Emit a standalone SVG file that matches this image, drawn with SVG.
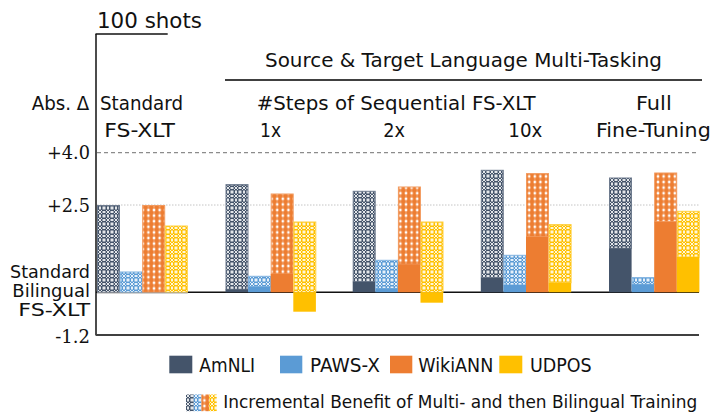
<svg xmlns="http://www.w3.org/2000/svg" width="714" height="415" viewBox="0 0 714 415">
  <defs>
    <!-- dotted lattice used for the incremental parts of the bars -->
    <pattern id="hA" width="8" height="8" patternUnits="userSpaceOnUse">
      <rect width="8" height="8" fill="#44546A"/>
      <path d="M0,0h1.5v1.5h-1.5z M6.5,0h1.5v1.5h-1.5z M0,6.5h1.5v1.5h-1.5z M6.5,6.5h1.5v1.5h-1.5z M3,0h2v1.5h-2z M3,6.5h2v1.5h-2z M0,3h1.5v2h-1.5z M6.5,3h1.5v2h-1.5z M3,3h2v2h-2z M2,2h1v1h-1z M5,2h1v1h-1z M2,5h1v1h-1z M5,5h1v1h-1z" fill="#fff" opacity="0.85"/>
    </pattern>
    <pattern id="hP" width="8" height="8" patternUnits="userSpaceOnUse">
      <rect width="8" height="8" fill="#5B9BD5"/>
      <path d="M0,0h1.5v1.5h-1.5z M6.5,0h1.5v1.5h-1.5z M0,6.5h1.5v1.5h-1.5z M6.5,6.5h1.5v1.5h-1.5z M3,0h2v1.5h-2z M3,6.5h2v1.5h-2z M0,3h1.5v2h-1.5z M6.5,3h1.5v2h-1.5z M3,3h2v2h-2z M2,2h1v1h-1z M5,2h1v1h-1z M2,5h1v1h-1z M5,5h1v1h-1z" fill="#fff" opacity="0.85"/>
    </pattern>
    <pattern id="hU" width="8" height="8" patternUnits="userSpaceOnUse">
      <rect width="8" height="8" fill="#FFC000"/>
      <path d="M0,0h1.5v1.5h-1.5z M6.5,0h1.5v1.5h-1.5z M0,6.5h1.5v1.5h-1.5z M6.5,6.5h1.5v1.5h-1.5z M3,0h2v1.5h-2z M3,6.5h2v1.5h-2z M0,3h1.5v2h-1.5z M6.5,3h1.5v2h-1.5z M3,3h2v2h-2z M2,2h1v1h-1z M5,2h1v1h-1z M2,5h1v1h-1z M5,5h1v1h-1z" fill="#fff" opacity="0.85"/>
    </pattern>
    <!-- small square grid for the WikiANN bars -->
    <pattern id="hW" width="5.6" height="5.6" patternUnits="userSpaceOnUse">
      <rect width="5.6" height="5.6" fill="#ED7D31"/>
      <rect x="1.6" y="1.6" width="2.4" height="2.4" fill="#fff"/>
      <rect x="2.3" y="0" width="1" height="5.6" fill="#fff" opacity="0.35"/>
    </pattern>
  </defs>
  <style>
    .sans { font-family: "DejaVu Sans", "Liberation Sans", sans-serif; font-size: 19.5px; fill: #111; }
    .ylab { font-family: "DejaVu Sans", "Liberation Sans", sans-serif; font-size: 18px; fill: #111; }
    .serif { font-family: "DejaVu Serif", "Liberation Serif", serif; font-size: 18px; fill: #111; }
    .a { fill: #44546A; }
    .p { fill: #5B9BD5; }
    .w { fill: #ED7D31; }
    .u { fill: #FFC000; }
    .ha { fill: url(#hA); stroke: #6E7B8E; stroke-width: 1; }
    .hp { fill: url(#hP); stroke: #7FB2E0; stroke-width: 1; }
    .hw { fill: url(#hW); stroke: #F29A5E; stroke-width: 1; }
    .hu { fill: url(#hU); stroke: #FFD040; stroke-width: 1; }
  </style>

  <rect width="714" height="415" fill="#fff"/>

  <!-- frame, reference lines and baseline -->
  <g id="axes">
    <line x1="95.5" y1="34" x2="167.7" y2="34" stroke="#111" stroke-width="1.3"/>
    <line x1="96" y1="34" x2="96" y2="335.5" stroke="#111" stroke-width="1.5"/>
    <line x1="225" y1="80" x2="702" y2="80" stroke="#404040" stroke-width="2"/>
    <line x1="97" y1="152.7" x2="699" y2="152.7" stroke="#8c8c8c" stroke-width="1.2" stroke-dasharray="4,3"/>
    <line x1="97" y1="205" x2="699" y2="205" stroke="#c4c4c4" stroke-width="1" stroke-dasharray="1.5,1.5"/>
    <line x1="96" y1="292.3" x2="699" y2="292.3" stroke="#111" stroke-width="1.6"/>
    <line x1="96" y1="335" x2="699" y2="335" stroke="#404040" stroke-width="2"/>
  </g>

  <!-- headings -->
  <g id="headings" class="sans">
    <text x="97" y="27.5" textLength="105" lengthAdjust="spacingAndGlyphs" font-size="21">100 shots</text>
    <text x="265" y="66.5" textLength="397" lengthAdjust="spacingAndGlyphs">Source &amp; Target Language Multi-Tasking</text>
    <text x="31.7" y="110" textLength="57.6" lengthAdjust="spacingAndGlyphs">Abs. Δ</text>
    <text x="100" y="110" textLength="83" lengthAdjust="spacingAndGlyphs">Standard</text>
    <text x="104.3" y="136.7" textLength="70.7" lengthAdjust="spacingAndGlyphs">FS-XLT</text>
    <text x="256.7" y="110" textLength="279" lengthAdjust="spacingAndGlyphs">#Steps of Sequential FS-XLT</text>
    <text x="260" y="136.7" textLength="21" lengthAdjust="spacingAndGlyphs">1x</text>
    <text x="383.3" y="136.7" textLength="21.7" lengthAdjust="spacingAndGlyphs">2x</text>
    <text x="508.3" y="136.7" textLength="34" lengthAdjust="spacingAndGlyphs">10x</text>
    <text x="636" y="110" textLength="35.7" lengthAdjust="spacingAndGlyphs">Full</text>
    <text x="596" y="136.7" textLength="114.7" lengthAdjust="spacingAndGlyphs">Fine-Tuning</text>
  </g>

  <!-- y-axis labels -->
  <g id="y-labels">
    <text class="serif" x="90" y="159.3" text-anchor="end" textLength="43" lengthAdjust="spacingAndGlyphs">+4.0</text>
    <text class="serif" x="90" y="211.7" text-anchor="end" textLength="43" lengthAdjust="spacingAndGlyphs">+2.5</text>
    <text class="ylab" x="90" y="277.5" text-anchor="end" textLength="80" lengthAdjust="spacingAndGlyphs">Standard</text>
    <text class="ylab" x="90" y="296.5" text-anchor="end" textLength="77.7" lengthAdjust="spacingAndGlyphs">Bilingual</text>
    <text class="ylab" x="90" y="315.5" text-anchor="end" textLength="71.7" lengthAdjust="spacingAndGlyphs">FS-XLT</text>
    <text class="serif" x="90" y="343" text-anchor="end">-1.2</text>
  </g>

  <!-- Standard FS-XLT -->
  <g id="group-standard">
    <rect class="ha" x="97.5" y="205.5" width="22" height="86.8"/>
    <rect class="hp" x="120.1" y="272" width="22" height="20.3"/>
    <rect class="hw" x="142.7" y="205.5" width="22" height="86.8"/>
    <rect class="hu" x="165.3" y="226" width="22" height="66.3"/>
    <line x1="97" y1="293" x2="187.7" y2="293" stroke="#a8a8a8" stroke-width="1"/>
  </g>

  <!-- Sequential 1x -->
  <g id="group-1x">
    <rect class="ha" x="226" y="184.6" width="22" height="104.7"/>
    <rect class="a" x="225.5" y="289.3" width="22.6" height="3"/>
    <rect class="hp" x="248.6" y="276.3" width="22" height="10.4"/>
    <rect class="p" x="248.1" y="286.7" width="22.6" height="5.6"/>
    <rect class="hw" x="271.2" y="194" width="22" height="80"/>
    <rect class="w" x="270.7" y="274" width="22.6" height="18.3"/>
    <rect class="hu" x="293.8" y="222" width="22" height="70.3"/>
    <rect class="u" x="293.3" y="292.3" width="22.6" height="19.4"/>
  </g>

  <!-- Sequential 2x -->
  <g id="group-2x">
    <rect class="ha" x="353.2" y="191.3" width="22" height="90.4"/>
    <rect class="a" x="352.7" y="281.7" width="22.6" height="10.6"/>
    <rect class="hp" x="375.8" y="260.3" width="22" height="28.2"/>
    <rect class="p" x="375.3" y="288.5" width="22.6" height="3.8"/>
    <rect class="hw" x="398.4" y="187" width="22" height="77.3"/>
    <rect class="w" x="397.9" y="264.3" width="22.6" height="28"/>
    <rect class="hu" x="421" y="222" width="22" height="70.3"/>
    <rect class="u" x="420.5" y="292.3" width="22.6" height="10.4"/>
  </g>

  <!-- Sequential 10x -->
  <g id="group-10x">
    <rect class="ha" x="481.3" y="170.3" width="22" height="107.4"/>
    <rect class="a" x="480.8" y="277.7" width="22.6" height="14.6"/>
    <rect class="hp" x="503.9" y="255.3" width="22" height="29.7"/>
    <rect class="p" x="503.4" y="285" width="22.6" height="7.3"/>
    <rect class="hw" x="526.5" y="173.6" width="22" height="63.1"/>
    <rect class="w" x="526" y="236.7" width="22.6" height="55.6"/>
    <rect class="hu" x="549.1" y="224.6" width="22" height="58.1"/>
    <rect class="u" x="548.6" y="282.7" width="22.6" height="9.6"/>
  </g>

  <!-- Full fine-tuning -->
  <g id="group-full">
    <rect class="ha" x="609.5" y="178" width="22" height="70.3"/>
    <rect class="a" x="609" y="248.3" width="22.6" height="44"/>
    <rect class="hp" x="632.1" y="277.6" width="22" height="6.7"/>
    <rect class="p" x="631.6" y="284.3" width="22.6" height="8"/>
    <rect class="hw" x="654.7" y="173" width="22" height="48.7"/>
    <rect class="w" x="654.2" y="221.7" width="22.6" height="70.6"/>
    <rect class="hu" x="677.3" y="211.3" width="22" height="45.7"/>
    <rect class="u" x="676.8" y="257" width="22.6" height="35.3"/>
  </g>

  <!-- legend -->
  <g id="legend" class="sans">
    <rect class="a" x="169.3" y="355.7" width="23" height="17.6"/>
    <text x="199.3" y="371.7" textLength="55.7" lengthAdjust="spacingAndGlyphs">AmNLI</text>
    <rect class="p" x="280" y="355.7" width="22.3" height="17.6"/>
    <text x="310" y="371.7" textLength="70" lengthAdjust="spacingAndGlyphs">PAWS-X</text>
    <rect class="w" x="390" y="355.7" width="22.3" height="17.6"/>
    <text x="418.3" y="371.7" textLength="75" lengthAdjust="spacingAndGlyphs">WikiANN</text>
    <rect class="u" x="499.3" y="355.7" width="23" height="17.6"/>
    <text x="530" y="371.7" textLength="61.7" lengthAdjust="spacingAndGlyphs">UDPOS</text>
    <rect x="186" y="394.5" width="7.7" height="16.7" fill="url(#hA)"/>
    <rect x="193.7" y="394.5" width="7.7" height="16.7" fill="url(#hP)"/>
    <rect x="201.4" y="394.5" width="7.7" height="16.7" fill="url(#hW)"/>
    <rect x="209.1" y="394.5" width="7.6" height="16.7" fill="url(#hU)"/>
    <text x="223.3" y="408.2" font-size="18.5" textLength="474" lengthAdjust="spacingAndGlyphs">Incremental Benefit of Multi- and then Bilingual Training</text>
  </g>
</svg>
